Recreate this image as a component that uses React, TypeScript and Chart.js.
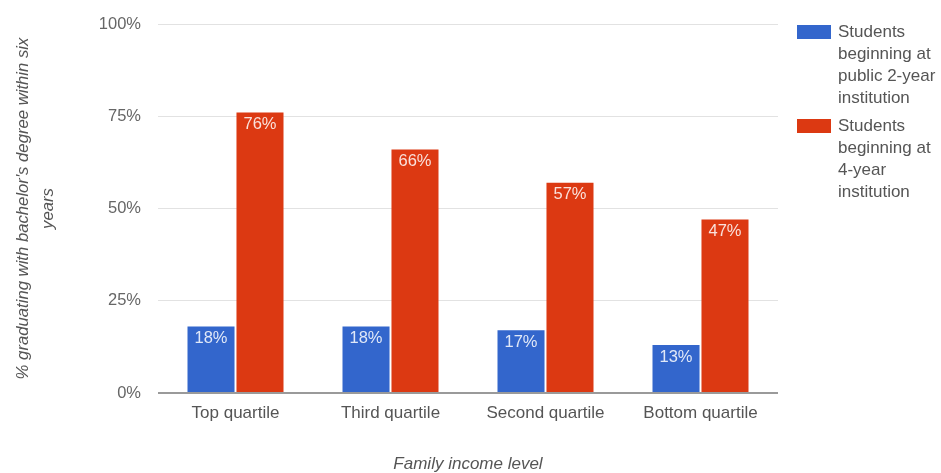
import React, { useEffect, useRef } from "react";
import { Chart, registerables } from "chart.js";

Chart.register(...registerables);

const categories = ["Top quartile", "Third quartile", "Second quartile", "Bottom quartile"];
const twoYearValues = [18, 18, 17, 13];
const fourYearValues = [76, 66, 57, 47];
const seriesNames = [
  ["Students", "beginning at", "public 2-year", "institution"],
  ["Students", "beginning at", "4-year", "institution"],
];
const seriesColors = ["#3366cc", "#dc3912"];
const yTicks = [0, 25, 50, 75, 100];
const yTitle = ["% graduating with bachelor's degree within six", "years"];
const xTitle = "Family income level";

const FONT = "'Liberation Sans', Arial, sans-serif";

const barLabelPlugin = {
  id: "barLabels",
  afterDatasetsDraw(chart: any) {
    const ctx = chart.ctx;
    ctx.save();
    ctx.font = `16.5px ${FONT}`;
    ctx.textAlign = "center";
    ctx.textBaseline = "middle";
    ctx.fillStyle = "rgba(255,255,255,0.85)";
    chart.data.datasets.forEach((ds: any, i: number) => {
      const meta = chart.getDatasetMeta(i);
      meta.data.forEach((el: any, j: number) => {
        ctx.fillText(ds.data[j] + "%", el.x, el.y + 12);
      });
    });
    ctx.restore();
  },
};

export default function App() {
  const canvasRef = useRef<HTMLCanvasElement | null>(null);

  useEffect(() => {
    if (!canvasRef.current) return;
    const chart = new Chart(canvasRef.current, {
      type: "bar",
      data: {
        labels: categories,
        datasets: [
          {
            label: seriesNames[0].join(" "),
            data: twoYearValues,
            backgroundColor: seriesColors[0],
            categoryPercentage: 0.632,
            barPercentage: 0.96,
          },
          {
            label: seriesNames[1].join(" "),
            data: fourYearValues,
            backgroundColor: seriesColors[1],
            categoryPercentage: 0.632,
            barPercentage: 0.96,
          },
        ],
      },
      options: {
        animation: false,
        responsive: true,
        maintainAspectRatio: false,
        layout: { padding: { top: 24, right: 163, left: 0, bottom: 0 } },
        plugins: {
          legend: { display: false },
          tooltip: { enabled: false },
        },
        scales: {
          x: {
            grid: { display: false, drawTicks: false },
            border: { display: false },
            ticks: {
              padding: 10,
              color: "#555",
              font: { family: FONT, size: 17 },
            },
            title: {
              display: true,
              text: xTitle,
              color: "#555",
              font: { family: FONT, size: 17, style: "italic", lineHeight: 1 },
              padding: { top: 0, bottom: 0 },
            },
            afterFit(scale: any) {
              scale.height = 80;
            },
          },
          y: {
            min: 0,
            max: 100,
            afterBuildTicks(scale: any) {
              scale.ticks = yTicks.map((v) => ({ value: v }));
            },
            grid: {
              drawTicks: false,
              color: (c: any) => (c.tick && c.tick.value === 0 ? "#9a9a9a" : "#e2e2e2"),
              lineWidth: (c: any) => (c.tick && c.tick.value === 0 ? 2 : 1),
            },
            border: { display: false },
            ticks: {
              padding: 17,
              color: "#666",
              font: { family: FONT, size: 16.5 },
              callback: (v: any) => v + "%",
            },
            title: {
              display: true,
              text: yTitle,
              color: "#555",
              font: { family: FONT, size: 16.7, style: "italic", lineHeight: 1.5 },
              padding: { top: 10.5, bottom: 0 },
            },
            afterFit(scale: any) {
              scale.width = 158;
              scale.paddingTop = 0;
              scale.paddingBottom = 0;
            },
          },
        },
      },
      plugins: [barLabelPlugin],
    });
    return () => chart.destroy();
  }, []);

  return (
    <div style={{ position: "fixed", left: 0, top: 0, width: 941, height: 473, background: "#fff" }}>
      <canvas ref={canvasRef} />
      {seriesNames.map((lines, i) => (
        <div
          key={i}
          style={{
            position: "absolute",
            left: 797,
            top: i === 0 ? 21 : 115,
            display: "flex",
            alignItems: "flex-start",
            fontFamily: FONT,
            fontSize: 17,
            lineHeight: "22px",
            color: "#555",
          }}
        >
          <div style={{ width: 34, height: 14, background: seriesColors[i], marginTop: 4, marginRight: 7 }} />
          <div>
            {lines.map((l, k) => (
              <div key={k} style={{ whiteSpace: "nowrap" }}>{l}</div>
            ))}
          </div>
        </div>
      ))}
    </div>
  );
}
